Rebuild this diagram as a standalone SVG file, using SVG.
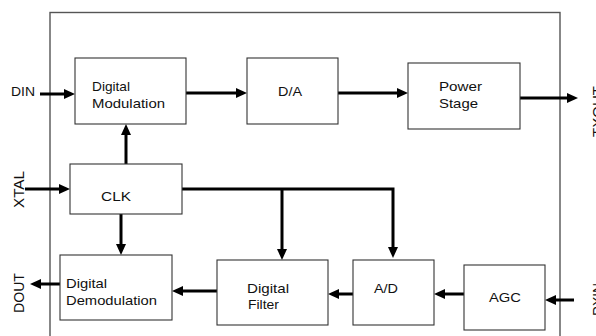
<svg xmlns="http://www.w3.org/2000/svg" width="596" height="336" viewBox="0 0 596 336">
<style>
.box{fill:#fff;stroke:#333;stroke-width:1.1}
.frame{fill:none;stroke:#555;stroke-width:1.4}
.t{font-family:"Liberation Sans",Arial,sans-serif;font-size:13px;fill:#111}
.r{font-family:"Liberation Sans",Arial,sans-serif;font-size:14.5px;fill:#111}
.c{fill:none;stroke:#000;stroke-width:3;marker-end:url(#ah)}
</style>
<defs>
<marker id="ah" viewBox="0 0 11 10" markerUnits="userSpaceOnUse" markerWidth="11" markerHeight="10" refX="6" refY="5" orient="auto">
<path d="M0,0 L11,5 L0,10 z" fill="#000"/>
</marker>
</defs>
<rect class="frame" x="50" y="12.5" width="510" height="340"/>
<g id="connectors">
<line class="c" x1="40" y1="94" x2="70" y2="94"/>
<line class="c" x1="186" y1="93" x2="242" y2="93"/>
<line class="c" x1="338" y1="93" x2="403" y2="93"/>
<line class="c" x1="520" y1="98" x2="573" y2="98"/>
<line class="c" x1="126" y1="164" x2="126" y2="129"/>
<line class="c" x1="25" y1="189" x2="65" y2="189"/>
<polyline class="c" points="182,189 393,189 393,253"/>
<line class="c" x1="282" y1="189" x2="282" y2="255"/>
<line class="c" x1="121" y1="214" x2="121" y2="250"/>
<line class="c" x1="60" y1="284" x2="35" y2="284"/>
<line class="c" x1="217" y1="291" x2="177" y2="291"/>
<line class="c" x1="353" y1="294" x2="333" y2="294"/>
<line class="c" x1="464" y1="294" x2="439" y2="294"/>
<line class="c" x1="574" y1="300" x2="550" y2="300"/>
</g>
<g id="labels">
<text class="t" x="11" y="95.5" textLength="24" lengthAdjust="spacingAndGlyphs">DIN</text>
<text class="r" transform="translate(23.5,208) rotate(-90)" textLength="37" lengthAdjust="spacingAndGlyphs">XTAL</text>
<text class="r" transform="translate(23.5,313) rotate(-90)" textLength="40" lengthAdjust="spacingAndGlyphs">DOUT</text>
<text class="r" transform="translate(602.5,137) rotate(-90)" textLength="51" lengthAdjust="spacingAndGlyphs">TXOUT</text>
<text class="r" transform="translate(602.5,316) rotate(-90)" textLength="33" lengthAdjust="spacingAndGlyphs">RXIN</text>
</g>
<g id="digital-modulation">
<rect class="box" x="75" y="58" width="111" height="66"/>
<text class="t" x="92" y="91" textLength="38" lengthAdjust="spacingAndGlyphs">Digital</text>
<text class="t" x="92" y="108" textLength="73" lengthAdjust="spacingAndGlyphs">Modulation</text>
</g>
<g id="da">
<rect class="box" x="247" y="58" width="91" height="66"/>
<text class="t" x="278" y="96" textLength="24" lengthAdjust="spacingAndGlyphs">D/A</text>
</g>
<g id="power-stage">
<rect class="box" x="408" y="63" width="112" height="66"/>
<text class="t" x="439" y="90.5" textLength="43" lengthAdjust="spacingAndGlyphs">Power</text>
<text class="t" x="439" y="107.5" textLength="39" lengthAdjust="spacingAndGlyphs">Stage</text>
</g>
<g id="clk">
<rect class="box" x="70" y="164" width="112" height="50"/>
<text class="t" x="101" y="201" textLength="30" lengthAdjust="spacingAndGlyphs">CLK</text>
</g>
<g id="digital-demodulation">
<rect class="box" x="60" y="255" width="112" height="65"/>
<text class="t" x="66" y="288" textLength="41" lengthAdjust="spacingAndGlyphs">Digital</text>
<text class="t" x="66" y="305" textLength="91" lengthAdjust="spacingAndGlyphs">Demodulation</text>
</g>
<g id="digital-filter">
<rect class="box" x="217" y="260" width="111" height="65"/>
<text class="t" x="247" y="293" textLength="42" lengthAdjust="spacingAndGlyphs">Digital</text>
<text class="t" x="248" y="309" textLength="31" lengthAdjust="spacingAndGlyphs">Filter</text>
</g>
<g id="ad">
<rect class="box" x="353" y="260" width="81" height="65"/>
<text class="t" x="374" y="293" textLength="24" lengthAdjust="spacingAndGlyphs">A/D</text>
</g>
<g id="agc">
<rect class="box" x="464" y="265" width="81" height="65"/>
<text class="t" x="489" y="302" textLength="32" lengthAdjust="spacingAndGlyphs">AGC</text>
</g>
</svg>
